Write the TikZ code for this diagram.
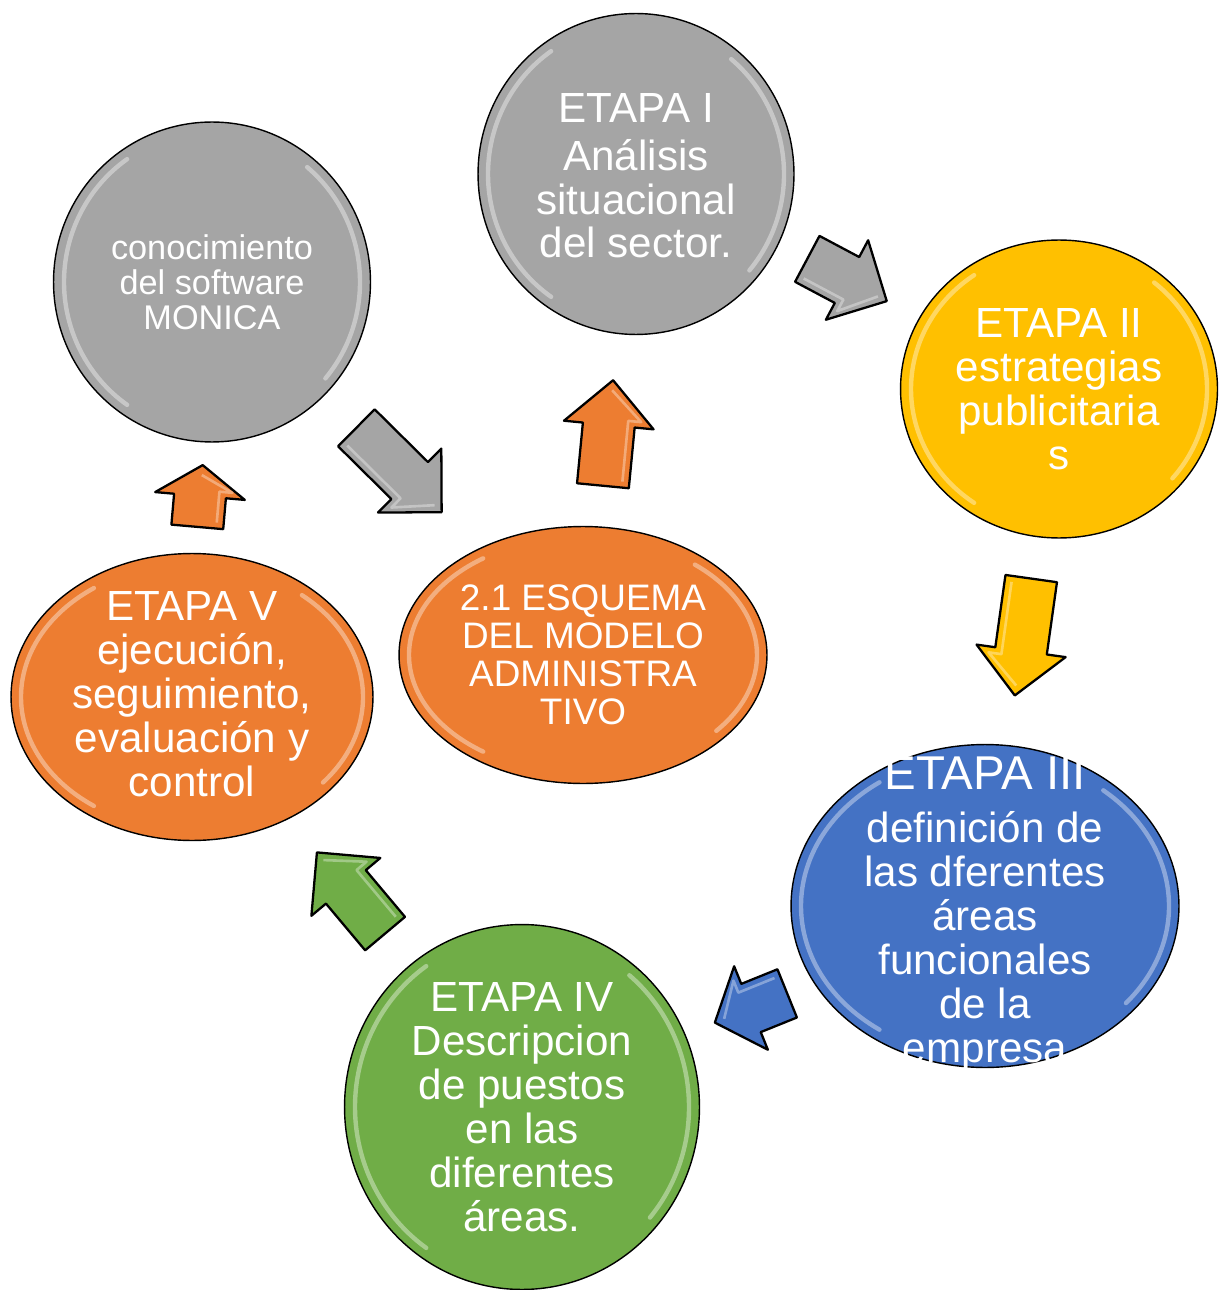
\documentclass[tikz,border=0pt]{standalone}
\usepackage{fontspec}
\setmainfont{Liberation Sans}
\usetikzlibrary{shapes.geometric,positioning}

\definecolor{stagegray}{HTML}{A5A5A5}
\definecolor{stageyellow}{HTML}{FFC000}
\definecolor{stageorange}{HTML}{ED7D31}
\definecolor{stageblue}{HTML}{4472C4}
\definecolor{stagegreen}{HTML}{70AD47}

\tikzset{
  bubble/.style={ellipse, draw=black, line width=0.8pt, inner sep=0pt},
  bubbletext/.style={text=white, align=center, inner sep=0pt, font=\fontsize{24}{25}\selectfont},
  rim/.style={white, opacity=0.38, line width=2.5pt, line cap=round},
  % block arrow: half length, head length, colour
  pics/blkarrow/.style n args={3}{code={
    \draw[line width=1.3pt, line join=round, fill=#3]
      ({-#1},26) -- ({#1-#2},26) -- ({#1-#2},45) -- (#1,0) -- ({#1-#2},-45)
      -- ({#1-#2},-26) -- ({-#1},-26) -- cycle;
    \draw[white, opacity=0.35, line width=1.5pt, line join=round]
      ({-#1+6},19) -- ({#1-#2+6},19) -- ({#1-#2+6},32) -- ({#1-10},0);
  }}
}

\begin{document}
\begin{tikzpicture}[x=0.02cm, y=-0.02cm]
    \useasboundingbox (0,0) rectangle (1229,1290);
    % Stages
    \node[bubble, fill=stagegray, minimum width=6.32cm, minimum height=6.42cm] (e1) at (636,174) {};
    \node[bubble, fill=stagegray, minimum width=6.34cm, minimum height=6.40cm] (e0) at (212,282) {};
    \node[bubble, fill=stageyellow, minimum width=6.34cm, minimum height=5.96cm] (e2) at (1059,389) {};
    \node[bubble, fill=stageorange, minimum width=7.36cm, minimum height=5.14cm] (esq) at (583,655) {};
    \node[bubble, fill=stageorange, minimum width=7.24cm, minimum height=5.74cm] (e5) at (192,697) {};
    \node[bubble, fill=stageblue, minimum width=7.76cm, minimum height=6.46cm] (e3) at (985,906) {};
    \node[bubble, fill=stagegreen, minimum width=7.10cm, minimum height=7.30cm] (e4) at (522,1107) {};
    % Gloss on the rims
    \foreach \n/\rx/\ry in {e1/158/160, e0/158/160, e2/158/149, esq/184/128, e5/181/143, e3/194/161, e4/177/182} {
        \pgfmathsetmacro\ra{\rx-10}
        \pgfmathsetmacro\rb{\ry-10}
        \draw[rim] (\n.center) ++(125:{\ra} and {\rb}) arc [start angle=125, end angle=235, x radius=\ra, y radius=\rb];
        \draw[rim] (\n.center) ++(-50:{\ra} and {\rb}) arc [start angle=-50, end angle=40, x radius=\ra, y radius=\rb];
    }
    % Texts
    \node[bubbletext] (t1) at (636,176) {ETAPA I\\[2pt]Análisis\\situacional\\del sector.};
    \node[bubbletext, font=\fontsize{19.5}{20}\selectfont] (t0) at (e0) {conocimiento\\del software\\MONICA};
    \node[bubbletext] (t2) at (e2) {ETAPA II\\estrategias\\publicitaria\\s};
    \node[bubbletext, font=\fontsize{21}{21.7}\selectfont] (tesq) at (esq) {2.1 ESQUEMA\\DEL MODELO\\ADMINISTRA\\TIVO};
    \node[bubbletext] (t5) at (192,694) {ETAPA V\\ejecución,\\seguimiento,\\evaluación y\\control};
    \node[bubbletext] (t3) at (985,914) {{\fontsize{27}{28}\selectfont ETAPA III}\\[5pt]definición de\\las dferentes\\áreas\\funcionales\\de la\\empresa};
    \node[bubbletext] (t4) at (e4) {ETAPA IV\\Descripcion\\de puestos\\en las\\diferentes\\áreas.};
    % Arrows
    \pic[rotate=-28] at (847,280) {blkarrow={45}{45}{stagegray}};
    \pic[rotate=84.5] at (608,433) {blkarrow={53}{45}{stageorange}};
    \pic[rotate=-98] at (1023,637) {blkarrow={59}{45}{stageyellow}};
    \pic[rotate=202] at (751,1008) {blkarrow={39}{39}{stageblue}};
    \pic[rotate=130] at (351,893) {blkarrow={53}{45}{stagegreen}};
    \pic[rotate=85] at (200,496) {blkarrow={31}{31}{stageorange}};
    \pic[rotate=-44.7] at (399,470) {blkarrow={60}{45}{stagegray}};
\end{tikzpicture}
\end{document}
